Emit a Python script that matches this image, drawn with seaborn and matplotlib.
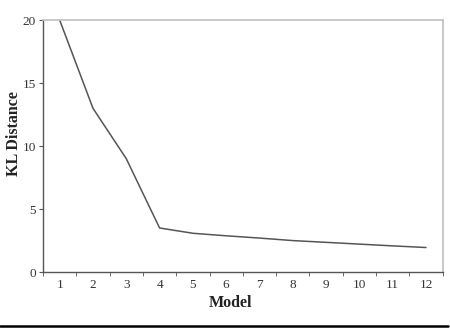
import numpy as np
import pandas as pd
import seaborn as sns
import matplotlib.pyplot as plt
from matplotlib.lines import Line2D

# values
models = [1, 2, 3, 4, 5, 6, 7, 8, 9, 10, 11, 12]
kl_distance = [20.0, 13.0, 9.0, 3.5, 3.08, 2.88, 2.7, 2.5, 2.36, 2.22, 2.08, 1.95]
y_ticks = [0, 5, 10, 15, 20]

df = pd.DataFrame({"Model": models, "KL Distance": kl_distance})

sns.set_style("white")
plt.rcParams["font.family"] = ["Liberation Serif", "DejaVu Serif"]

fig = plt.figure(figsize=(4.5, 3.29), dpi=100)
ax = fig.add_axes([0.0956, 0.173, 0.888, 0.766])

sns.lineplot(data=df, x="Model", y="KL Distance", color="#555555", linewidth=1.1, ax=ax)

ax.set_xlim(0.5, 12.5)
ax.set_ylim(0, 20)
ax.set_yticks(y_ticks)
ax.set_xticks(models)
ax.set_xticks(np.arange(0.5, 13, 1), minor=True)
ax.tick_params(axis="x", which="major", length=0, pad=5, labelsize=9.5, colors="#333333")
ax.tick_params(axis="x", which="minor", length=3, direction="out", color="#555555", bottom=True)
ax.tick_params(axis="y", length=3, direction="out", color="#555555", labelsize=9.5,
               colors="#333333", pad=2, left=True)

for side in ["left", "bottom"]:
    ax.spines[side].set_color("#555555")
    ax.spines[side].set_linewidth(1.0)
for side in ["top", "right"]:
    ax.spines[side].set_color("#c0c0c0")
    ax.spines[side].set_linewidth(1.2)

ax.set_xlabel("Model", fontsize=11.5, fontweight="bold", color="#222222")
ax.xaxis.set_label_coords(0.47, -0.09)
ax.set_ylabel("KL Distance", fontsize=11.5, fontweight="bold", color="#222222")
ax.yaxis.set_label_coords(-0.052, 0.548)

fig.add_artist(Line2D([0.0, 0.995], [0.009, 0.009], transform=fig.transFigure,
                      color="black", linewidth=1.8))

fig.savefig("out.png", dpi=100)
